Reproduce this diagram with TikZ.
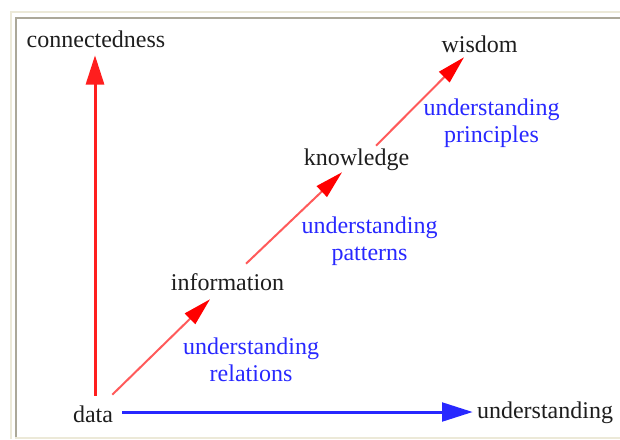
\documentclass[tikz,border=0pt]{standalone}
\usepackage{fontspec}
\setmainfont{Liberation Serif}
\usetikzlibrary{positioning,arrows.meta}
\usepackage{xcolor}
\definecolor{dikwred}{RGB}{255,30,30}
\definecolor{dikwpink}{RGB}{255,90,90}
\definecolor{dikwblue}{RGB}{40,40,255}
\definecolor{dikwtext}{RGB}{30,30,30}
\definecolor{framebeige}{HTML}{ECE9D8}
\definecolor{framegray}{HTML}{ACA899}

\begin{document}
\begin{tikzpicture}[
      x=0.75pt, y=-0.75pt,
      font=\fontsize{18}{20.25}\selectfont,
      word/.style={
        text=dikwtext, inner sep=0pt,
        text height=12.75pt, text depth=3.75pt
      },
      note/.style={text=dikwblue, inner sep=0pt, align=center},
      axisup/.style={draw=dikwred, line width=2.25pt,
        -{Triangle[length=22pt, width=13.5pt]}},
      axisright/.style={draw=dikwblue, line width=2.25pt,
        -{Triangle[length=23pt, width=14pt]}},
      climb/.style={draw=dikwpink, line width=1.5pt,
        -{Triangle[length=21pt, width=11pt, color=red]}},
      rim/.style={line width=1.5pt}
    ]
      \useasboundingbox (0,0) rectangle (620,439);
      % window frame
      \draw[rim, framebeige] (11,439) -- (11,12) -- (620,12);
      \draw[rim, framegray] (15.5,438) -- (15.5,17.5) -- (620,17.5);
      \draw[rim, framebeige] (15,438.2) -- (620,438.2);

      \node[word] (connectedness) at (96,41) {connectedness};
      \node[word] (data) at (93,416) {data};
      \node[word] (understanding) at (545,412) {understanding};
      \node[word] (information) at (227.5,284) {information};
      \node[word] (knowledge) at (356.5,159) {knowledge};
      \node[word] (wisdom) at (479.5,46) {wisdom};

      \node[note] (relations) at (251,360) {understanding\\relations};
      \node[note] (patterns) at (369.5,241) {understanding\\patterns};
      \node[note] (principles) at (491.5,123) {understanding\\principles};

      % axes
      \draw[axisup, shorten <=6.75pt, shorten >=2.25pt]
        ([xshift=1.5pt]data.north) -- ([xshift=1.5pt]data.north |- connectedness.south);
      \draw[axisright, shorten <=6.75pt, shorten >=3pt]
        (understanding.west -| data.east) -- (understanding.west);

      % steps
      \draw[climb] ([shift={(-1,-10)}]data.north east) -- ([shift={(-17.5,4)}]information.south);
      \draw[climb] ([shift={(18.5,-9)}]information.north) -- ([shift={(-14.5,2)}]knowledge.south);
      \draw[climb] ([shift={(19.5,-2)}]knowledge.north) -- ([shift={(-15.5,0)}]wisdom.south);
    \end{tikzpicture}
\end{document}
